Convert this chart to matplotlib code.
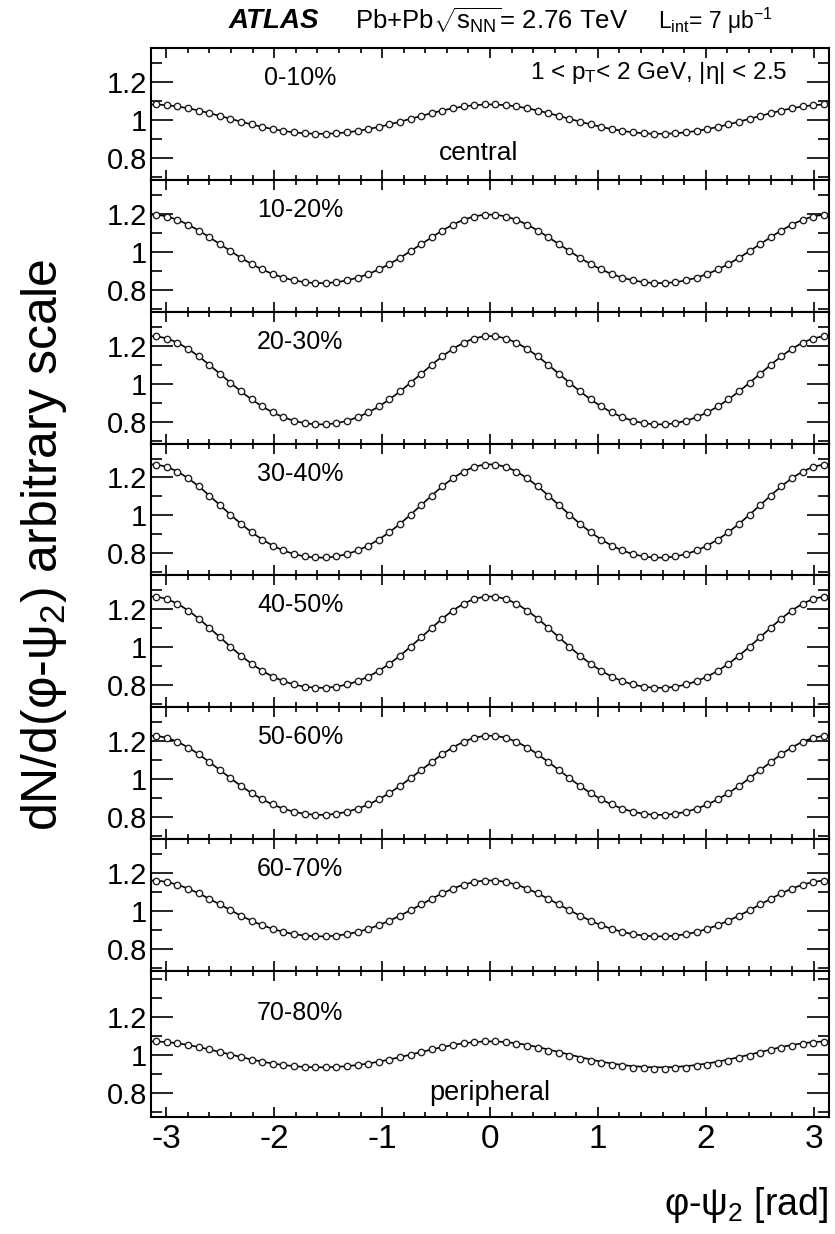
import numpy as np
import matplotlib
matplotlib.use("Agg")
import matplotlib.pyplot as plt
from matplotlib.ticker import MultipleLocator, FixedLocator

plt.rcParams['font.family'] = ['Liberation Sans', 'DejaVu Sans']
plt.rcParams['mathtext.fontset'] = 'custom'
plt.rcParams['mathtext.rm'] = 'Liberation Sans'
plt.rcParams['mathtext.it'] = 'Liberation Sans:italic'
plt.rcParams['mathtext.default'] = 'regular'
plt.rcParams['axes.unicode_minus'] = False

# ---------------- data ----------------
centralities = ["0-10%", "10-20%", "20-30%", "30-40%", "40-50%", "50-60%", "60-70%", "70-80%"]
# Fourier fit coefficients of the drawn curves: 1 + c2*cos(2x) + c4*cos(4x)
fit_c2 = [0.077, 0.180, 0.232, 0.247, 0.240, 0.208, 0.147, 0.068]
fit_c4 = [0.003, 0.015, 0.018, 0.022, 0.024, 0.018, 0.012, 0.004]
n_bins = 64

y_0_10 = [1.080, 1.076, 1.070, 1.060, 1.048, 1.035, 1.020, 1.005, 0.990, 0.975, 0.962, 0.951, 0.941, 0.934, 0.929, 0.926,
          0.926, 0.929, 0.934, 0.941, 0.951, 0.962, 0.975, 0.990, 1.005, 1.020, 1.035, 1.048, 1.060, 1.070, 1.076, 1.080,
          1.080, 1.076, 1.070, 1.060, 1.048, 1.035, 1.020, 1.005, 0.990, 0.975, 0.962, 0.951, 0.941, 0.934, 0.929, 0.926,
          0.926, 0.929, 0.934, 0.941, 0.951, 0.962, 0.975, 0.990, 1.005, 1.020, 1.035, 1.048, 1.060, 1.070, 1.076, 1.080]
y_10_20 = [1.194, 1.185, 1.167, 1.142, 1.111, 1.077, 1.040, 1.003, 0.968, 0.935, 0.907, 0.883, 0.864, 0.850, 0.840, 0.836,
           0.836, 0.840, 0.850, 0.864, 0.883, 0.907, 0.935, 0.968, 1.003, 1.040, 1.077, 1.111, 1.142, 1.167, 1.185, 1.194,
           1.194, 1.185, 1.167, 1.142, 1.111, 1.077, 1.040, 1.003, 0.968, 0.935, 0.907, 0.883, 0.864, 0.850, 0.840, 0.836,
           0.836, 0.840, 0.850, 0.864, 0.883, 0.907, 0.935, 0.968, 1.003, 1.040, 1.077, 1.111, 1.142, 1.167, 1.185, 1.194]
y_20_30 = [1.249, 1.237, 1.215, 1.183, 1.144, 1.099, 1.052, 1.005, 0.960, 0.918, 0.881, 0.849, 0.824, 0.805, 0.793, 0.787,
           0.787, 0.793, 0.805, 0.824, 0.849, 0.881, 0.918, 0.960, 1.005, 1.052, 1.099, 1.144, 1.183, 1.215, 1.237, 1.249,
           1.249, 1.237, 1.215, 1.183, 1.144, 1.099, 1.052, 1.005, 0.960, 0.918, 0.881, 0.849, 0.824, 0.805, 0.793, 0.787,
           0.787, 0.793, 0.805, 0.824, 0.849, 0.881, 0.918, 0.960, 1.005, 1.052, 1.099, 1.144, 1.183, 1.215, 1.237, 1.249]
y_30_40 = [1.267, 1.255, 1.230, 1.195, 1.152, 1.104, 1.053, 1.003, 0.954, 0.910, 0.871, 0.839, 0.813, 0.794, 0.782, 0.776,
           0.776, 0.782, 0.794, 0.813, 0.839, 0.871, 0.910, 0.954, 1.003, 1.053, 1.104, 1.152, 1.195, 1.230, 1.255, 1.267,
           1.267, 1.255, 1.230, 1.195, 1.152, 1.104, 1.053, 1.003, 0.954, 0.910, 0.871, 0.839, 0.813, 0.794, 0.782, 0.776,
           0.776, 0.782, 0.794, 0.813, 0.839, 0.871, 0.910, 0.954, 1.003, 1.053, 1.104, 1.152, 1.195, 1.230, 1.255, 1.267]
y_40_50 = [1.262, 1.250, 1.225, 1.190, 1.148, 1.100, 1.050, 1.000, 0.953, 0.910, 0.874, 0.843, 0.819, 0.802, 0.790, 0.785,
           0.785, 0.790, 0.802, 0.819, 0.843, 0.874, 0.910, 0.953, 1.000, 1.050, 1.100, 1.148, 1.190, 1.225, 1.250, 1.262,
           1.262, 1.250, 1.225, 1.190, 1.148, 1.100, 1.050, 1.000, 0.953, 0.910, 0.874, 0.843, 0.819, 0.802, 0.790, 0.785,
           0.785, 0.790, 0.802, 0.819, 0.843, 0.874, 0.910, 0.953, 1.000, 1.050, 1.100, 1.148, 1.190, 1.225, 1.250, 1.262]
y_50_60 = [1.225, 1.214, 1.193, 1.164, 1.129, 1.088, 1.045, 1.003, 0.962, 0.925, 0.892, 0.865, 0.843, 0.827, 0.816, 0.811,
           0.811, 0.816, 0.827, 0.843, 0.865, 0.892, 0.925, 0.962, 1.003, 1.045, 1.088, 1.129, 1.164, 1.193, 1.214, 1.225,
           1.225, 1.214, 1.193, 1.164, 1.129, 1.088, 1.045, 1.003, 0.962, 0.925, 0.892, 0.865, 0.843, 0.827, 0.816, 0.811,
           0.811, 0.816, 0.827, 0.843, 0.865, 0.892, 0.925, 0.962, 1.003, 1.045, 1.088, 1.129, 1.164, 1.193, 1.214, 1.225]
y_60_70 = [1.158, 1.151, 1.136, 1.116, 1.091, 1.063, 1.033, 1.003, 0.974, 0.947, 0.924, 0.904, 0.889, 0.877, 0.869, 0.866,
           0.866, 0.869, 0.877, 0.889, 0.904, 0.924, 0.947, 0.974, 1.003, 1.033, 1.063, 1.091, 1.116, 1.136, 1.151, 1.158,
           1.158, 1.151, 1.136, 1.116, 1.091, 1.063, 1.033, 1.003, 0.974, 0.947, 0.924, 0.904, 0.889, 0.877, 0.869, 0.866,
           0.866, 0.869, 0.877, 0.889, 0.904, 0.924, 0.947, 0.974, 1.003, 1.033, 1.063, 1.091, 1.116, 1.136, 1.151, 1.158]
y_70_80 = [1.072, 1.068, 1.062, 1.053, 1.042, 1.030, 1.016, 1.003, 0.989, 0.977, 0.966, 0.956, 0.948, 0.942, 0.938, 0.936,
           0.936, 0.938, 0.942, 0.948, 0.956, 0.966, 0.977, 0.989, 1.003, 1.016, 1.030, 1.042, 1.053, 1.062, 1.068, 1.072,
           1.072, 1.068, 1.061, 1.050, 1.037, 1.024, 1.010, 0.996, 0.982, 0.970, 0.959, 0.949, 0.941, 0.935, 0.931, 0.929,
           0.929, 0.931, 0.935, 0.941, 0.949, 0.959, 0.971, 0.984, 0.998, 1.012, 1.026, 1.039, 1.050, 1.059, 1.066, 1.070]
series = [y_0_10, y_10_20, y_20_30, y_30_40, y_40_50, y_50_60, y_60_70, y_70_80]

yticks = [0.8, 1.0, 1.2]
ytick_labels = ["0.8", "1", "1.2"]
xticks = [-3, -2, -1, 0, 1, 2, 3]

# ---------------- figure ----------------
W, H = 835, 1234
fig = plt.figure(figsize=(W / 100, H / 100), dpi=100)
left_px, right_px = 151, 829
tops = [48, 180, 312, 444, 575, 707, 839, 971]
bottoms = [180, 312, 444, 575, 707, 839, 971, 1117]
ylims = [(0.683, 1.377)] * 7 + [(0.675, 1.442)]

edges = np.linspace(-np.pi, np.pi, n_bins + 1)
xc = 0.5 * (edges[:-1] + edges[1:])
xf = np.linspace(-np.pi, np.pi, 400)

axes = []
for i, (lab, c2, c4, yv) in enumerate(zip(centralities, fit_c2, fit_c4, series)):
    t, b = tops[i], bottoms[i]
    ax = fig.add_axes([left_px / W, 1 - b / H, (right_px - left_px) / W, (b - t) / H])
    ax.plot(xf, 1 + c2 * np.cos(2 * xf) + c4 * np.cos(4 * xf), color='black', lw=1.2, zorder=2)
    ax.plot(xc, yv, linestyle='none', marker='o', ms=4.6, mfc='white', mec='#222222', mew=1.0, zorder=3)
    ax.set_xlim(-np.pi, np.pi)
    ax.set_ylim(*ylims[i])
    ax.yaxis.set_major_locator(FixedLocator(yticks))
    ax.set_yticklabels(ytick_labels)
    ax.yaxis.set_minor_locator(MultipleLocator(0.1))
    ax.xaxis.set_major_locator(FixedLocator(xticks))
    ax.xaxis.set_minor_locator(MultipleLocator(0.2))
    ax.tick_params(axis='both', which='both', direction='in', top=True, right=True, width=1.2)
    ax.tick_params(axis='y', which='major', length=16, labelsize=21, pad=3)
    ax.tick_params(axis='y', which='minor', length=8)
    ax.tick_params(axis='x', which='major', length=7, labelsize=24, pad=5)
    ax.tick_params(axis='x', which='minor', length=3.5)
    for s in ax.spines.values():
        s.set_linewidth(1.5)
    if i < 7:
        ax.tick_params(axis='x', labelbottom=False)
    ax.text(-1.76, 1.22, lab, ha='center', va='center', fontsize=18)
    axes.append(ax)

axes[0].text(2.76, 1.245, r"1 < p$_{T}$< 2 GeV, |η| < 2.5", ha='right', va='center', fontsize=17.5)
axes[0].text(-0.11, 0.826, "central", ha='center', va='center', fontsize=19)
axes[7].text(0.0, 0.80, "peripheral", ha='center', va='center', fontsize=19.5)

ty = 1 - 21 / H
fig.text(229 / W, ty, "ATLAS", fontsize=20, fontweight='bold', fontstyle='italic', ha='left', va='center')
fig.text(355 / W, ty, r"Pb+Pb$\sqrt{s_{NN}}$= 2.76 TeV", fontsize=18.5, ha='left', va='center')
fig.text(658 / W, ty, r"L$_{int}$= 7 μb$^{-1}$", fontsize=16.5, ha='left', va='center')

fig.text(44 / W, 1 - 545 / H, r"dN/d(φ-ψ$_{2}$) arbitrary scale", rotation=90, fontsize=36, ha='center', va='center')
fig.text(828 / W, 1 - 1205 / H, r"φ-ψ$_{2}$ [rad]", fontsize=27, ha='right', va='center')

fig.savefig("out.png", dpi=100)
